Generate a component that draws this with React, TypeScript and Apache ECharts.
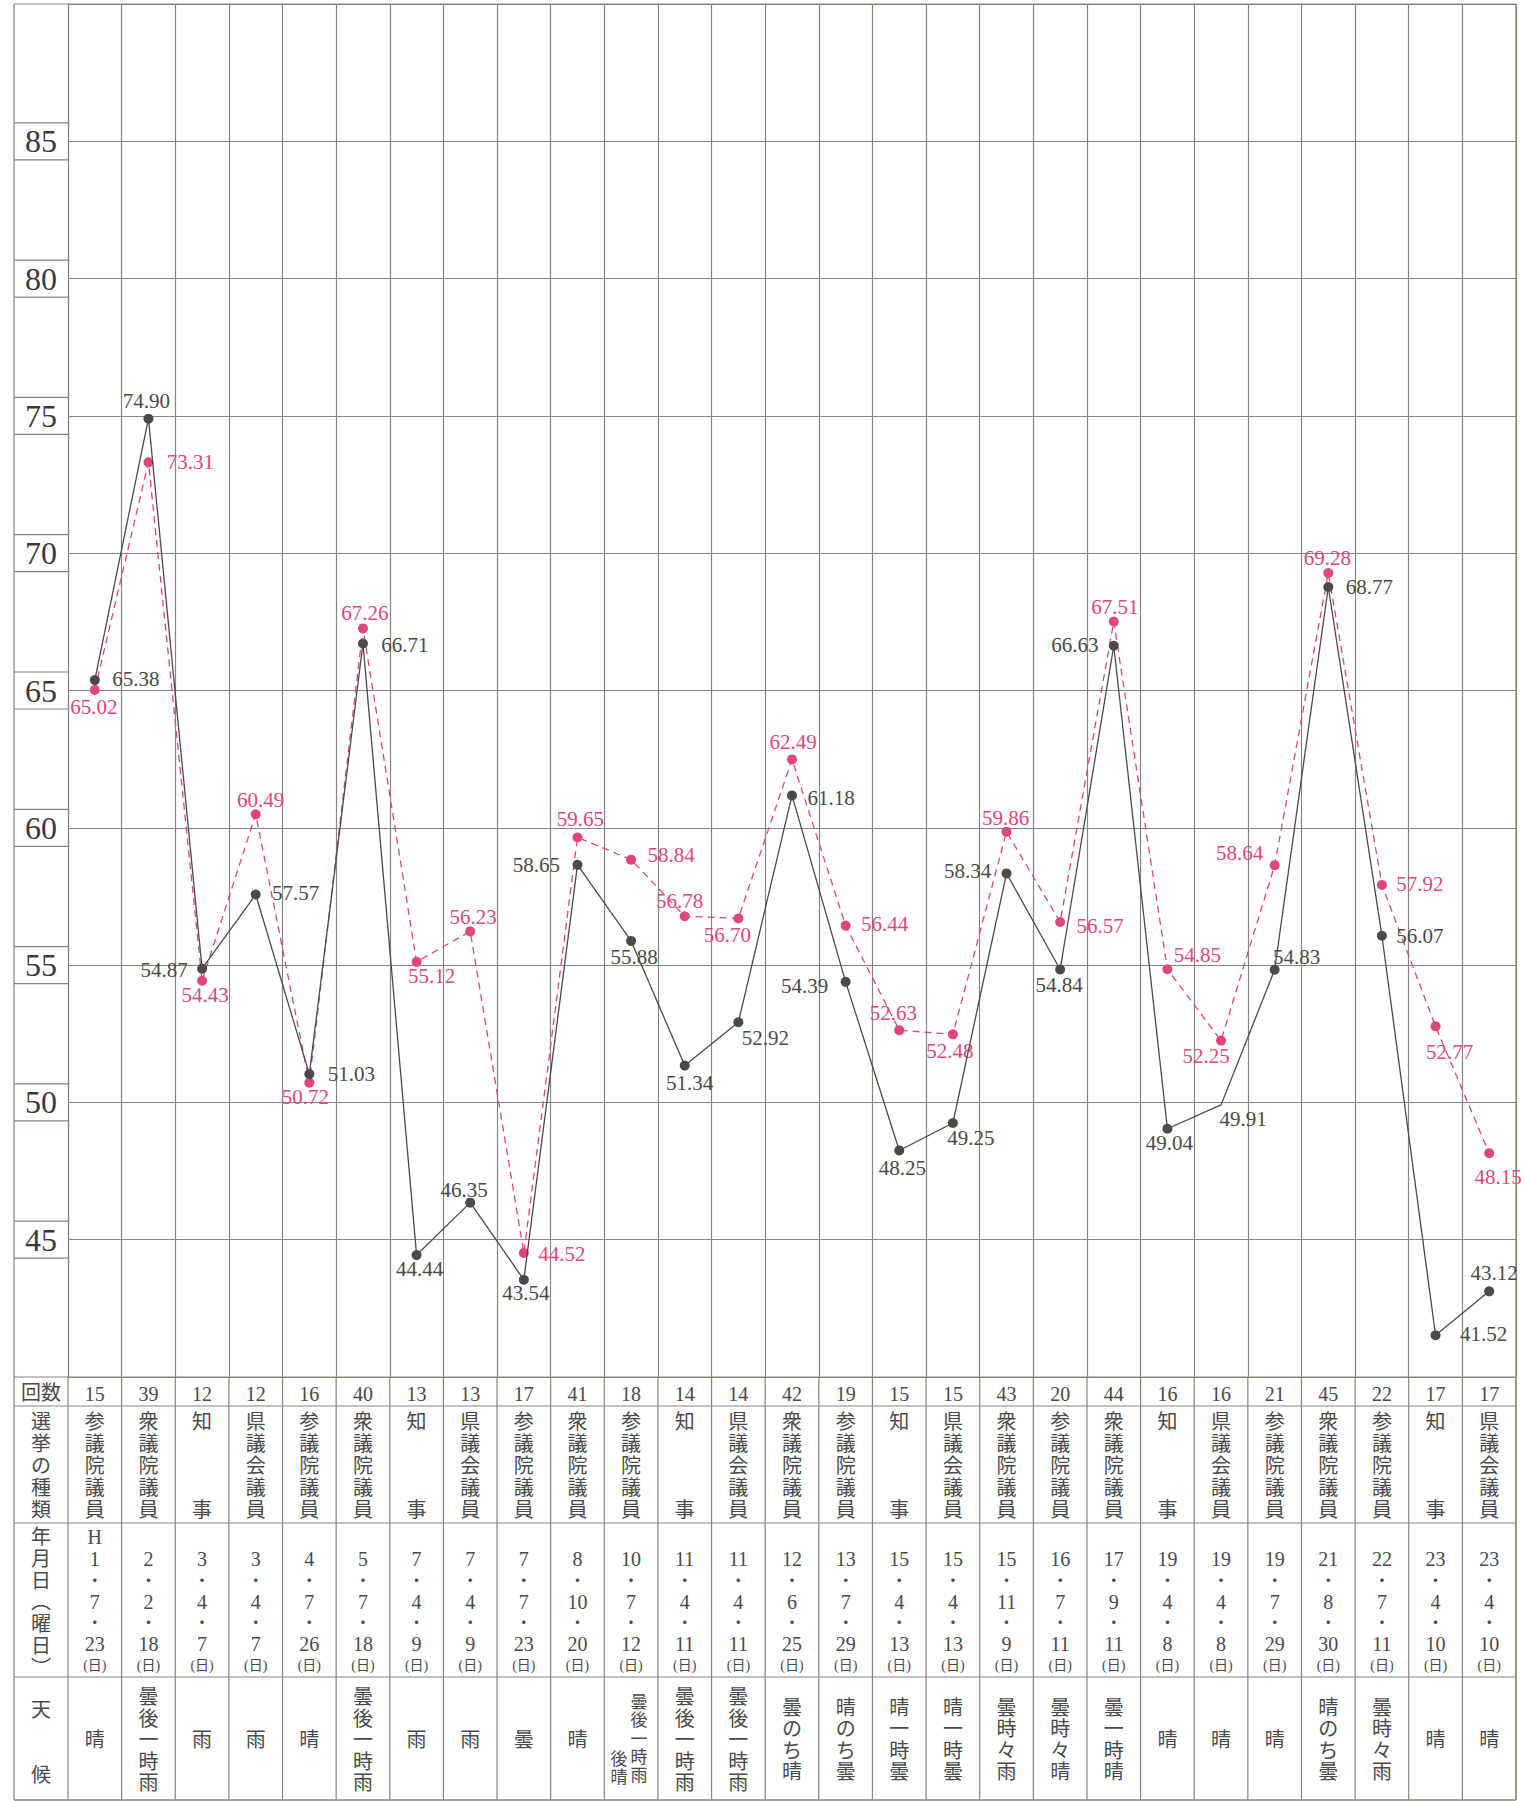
import React, { useEffect, useRef } from "react";
import * as echarts from "echarts";

// ---- data ----
const counts = ["15", "39", "12", "12", "16", "40", "13", "13", "17", "41", "18", "14", "14", "42", "19", "15", "15", "43", "20", "44", "16", "16", "21", "45", "22", "17", "17"];
const electionTypes = ["参議院議員", "衆議院議員", "知事", "県議会議員", "参議院議員", "衆議院議員", "知事", "県議会議員", "参議院議員", "衆議院議員", "参議院議員", "知事", "県議会議員", "衆議院議員", "参議院議員", "知事", "県議会議員", "衆議院議員", "参議院議員", "衆議院議員", "知事", "県議会議員", "参議院議員", "衆議院議員", "参議院議員", "知事", "県議会議員"];
const dateYears = ["1", "2", "3", "3", "4", "5", "7", "7", "7", "8", "10", "11", "11", "12", "13", "15", "15", "15", "16", "17", "19", "19", "19", "21", "22", "23", "23"];
const dateMonths = ["7", "2", "4", "4", "7", "7", "4", "4", "7", "10", "7", "4", "4", "6", "7", "4", "4", "11", "7", "9", "4", "4", "7", "8", "7", "4", "4"];
const dateDays = ["23", "18", "7", "7", "26", "18", "9", "9", "23", "20", "12", "11", "11", "25", "29", "13", "13", "9", "11", "11", "8", "8", "29", "30", "11", "10", "10"];
const weekdays = ["(日)", "(日)", "(日)", "(日)", "(日)", "(日)", "(日)", "(日)", "(日)", "(日)", "(日)", "(日)", "(日)", "(日)", "(日)", "(日)", "(日)", "(日)", "(日)", "(日)", "(日)", "(日)", "(日)", "(日)", "(日)", "(日)", "(日)"];
const weather = ["晴", "曇後一時雨", "雨", "雨", "晴", "曇後一時雨", "雨", "雨", "曇", "晴", "曇後一時雨後晴", "曇後一時雨", "曇後一時雨", "曇のち晴", "晴のち曇", "晴一時曇", "晴一時曇", "曇時々雨", "曇時々晴", "曇一時晴", "晴", "晴", "晴", "晴のち曇", "曇時々雨", "晴", "晴"];

const blackValues = [65.38, 74.90, 54.87, 57.57, 51.03, 66.71, 44.44, 46.35, 43.54, 58.65, 55.88, 51.34, 52.92, 61.18, 54.39, 48.25, 49.25, 58.34, 54.84, 66.63, 49.04, 49.91, 54.83, 68.77, 56.07, 41.52, 43.12];
const pinkValues = [65.02, 73.31, 54.43, 60.49, 50.72, 67.26, 55.12, 56.23, 44.52, 59.65, 58.84, 56.78, 56.70, 62.49, 56.44, 52.63, 52.48, 59.86, 56.57, 67.51, 54.85, 52.25, 58.64, 69.28, 57.92, 52.77, 48.15];

const yTicks = [45, 50, 55, 60, 65, 70, 75, 80, 85];

// ---- label placement (layout, separate from data) ----
const blackLabelOffsets: [number, number][] = [
  [41, -1], [-2, -18], [-38, 1], [40, -2], [42, 0], [42, 1], [3, 14], [-6, -13], [2, 13], [-41, 0],
  [3, 16], [5, 17], [27, 16], [39, 3], [-41, 4], [3, 18], [18, 15], [-39, -2], [-1, 16], [-39, -1],
  [2, 14], [22, 14], [22, -13], [41, 0], [38, 0], [48, -1], [5, -18],
];
const pinkLabelOffsets: [number, number][] = [
  [-1, 17], [42, 0], [3, 14], [5, -14], [-4, 14], [2, -15], [15, 14], [3, -14], [38, 1], [3, -18],
  [40, -5], [-5, -15], [-11, 17], [1, -17], [39, -2], [-6, -17], [-3, 17], [-1, -14], [40, 4], [1, -15],
  [30, -14], [-15, 15], [-35, -12], [-1, -15], [38, -1], [14, 26], [9, 24],
];
const blackHiddenMarkers = [21];

const GRID = "#86867a";
const BLACK = "#4a4a46";
const PINK = "#e0467c";
const TEXT = "#4a4a4a";
const SERIF = "'Liberation Serif', 'Noto Sans CJK JP', serif";
const CJK = "'Liberation Serif', 'Noto Sans CJK JP', sans-serif";

export default function App() {
  const ref = useRef<HTMLDivElement>(null);

  useEffect(() => {
    document.body.style.margin = "0";
    const chart = echarts.init(ref.current!, null, { renderer: "svg" });

    const labelBase = {
      show: true,
      position: "inside",
      fontSize: 21,
      fontFamily: SERIF,
      formatter: (p: any) => Number(p.value).toFixed(2),
    };

    const option: any = {
      animation: false,
      backgroundColor: "#ffffff",
      grid: { left: 68, right: 10, top: 4, bottom: 424, containLabel: false },
      xAxis: {
        type: "category",
        data: counts,
        boundaryGap: true,
        axisLine: { show: false },
        axisTick: { show: false },
        axisLabel: { show: false },
        splitLine: { show: true, interval: 0, lineStyle: { color: GRID, width: 1.2 } },
      },
      yAxis: {
        type: "value",
        min: 40,
        max: 90,
        interval: 5,
        axisLine: { show: true, lineStyle: { color: GRID, width: 1.2 } },
        axisTick: { show: false },
        axisLabel: {
          show: true,
          formatter: (v: number) => (yTicks.includes(v) ? String(v) : ""),
          fontSize: 32,
          fontFamily: SERIF,
          color: "#3a3a3a",
          align: "center",
          margin: 27,
        },
        splitLine: { show: true, lineStyle: { color: GRID, width: 1.2 } },
      },
      series: [
        {
          type: "line",
          name: "pink",
          z: 2,
          data: pinkValues.map((v, i) => ({ value: v, label: { offset: pinkLabelOffsets[i] } })),
          symbol: "circle",
          symbolSize: 10,
          itemStyle: { color: PINK },
          lineStyle: { color: PINK, width: 1.3, type: [7, 5] },
          label: { ...labelBase, color: PINK },
        },
        {
          type: "line",
          name: "black",
          z: 3,
          data: blackValues.map((v, i) => ({
            value: v,
            label: { offset: blackLabelOffsets[i] },
            ...(blackHiddenMarkers.includes(i) ? { symbolSize: 0 } : {}),
          })),
          symbol: "circle",
          symbolSize: 10,
          itemStyle: { color: BLACK },
          lineStyle: { color: BLACK, width: 1.3 },
          label: { ...labelBase, color: BLACK },
        },
      ],
    };
    chart.setOption(option);

    const xC = (i: number) => chart.convertToPixel({ xAxisIndex: 0 }, i) as number;
    const yP = (v: number) => chart.convertToPixel({ yAxisIndex: 0 }, v) as number;

    const n = counts.length;
    const band = xC(1) - xC(0);
    const gLeft = xC(0) - band / 2;
    const gRight = xC(n - 1) + band / 2;
    const frameLeft = 14;
    const T = yP(40);
    const top = yP(90);
    const rowBounds = [T, T + 29, T + 146, T + 300, T + 423];
    const bottom = rowBounds[4];

    const els: any[] = [];
    const line = (x1: number, y1: number, x2: number, y2: number) =>
      els.push({ type: "line", silent: true, z: 1, shape: { x1, y1, x2, y2 }, style: { stroke: GRID, lineWidth: 1.2 } });
    const text = (t: string, x: number, y: number, size: number, color = TEXT, family = CJK) =>
      els.push({
        type: "text",
        silent: true,
        z: 5,
        x,
        y,
        style: {
          text: t,
          fill: color,
          font: `${size}px ${family}`,
          align: "center",
          verticalAlign: "middle",
          textAlign: "center",
          textVerticalAlign: "middle",
        },
      });

    // frame
    line(frameLeft, top, gRight, top);
    line(frameLeft, top, frameLeft, bottom);
    line(frameLeft, bottom, gRight, bottom);
    line(gRight, top, gRight, bottom);
    // y label boxes
    yTicks.forEach((v) => {
      const y = yP(v);
      line(frameLeft, y - 18.5, gLeft, y - 18.5);
      line(frameLeft, y + 18.5, gLeft, y + 18.5);
    });
    // table rows
    rowBounds.forEach((y) => line(frameLeft, y, gRight, y));
    // table columns
    for (let k = 0; k <= n; k++) {
      const x = gLeft + k * band;
      line(x, T, x, bottom);
    }

    const hx = (frameLeft + gLeft) / 2;
    // header column
    text("回数", hx, T + 16, 20);
    "選挙の種類".split("").forEach((c, k) => text(c, hx, T + 45 + k * 22, 20));
    "年月日︵曜日︶".split("").forEach((c, k) => text(c, hx, T + 160 + k * 21.8, 20));
    text("天", hx, T + 333, 20);
    text("候", hx, T + 398, 20);

    for (let i = 0; i < n; i++) {
      const x = xC(i);
      text(counts[i], x, T + 17, 20, TEXT, SERIF);
      const chars = electionTypes[i].split("");
      if (chars.length === 2) {
        text(chars[0], x, T + 45, 20);
        text(chars[1], x, T + 45 + 4 * 22, 20);
      } else {
        chars.forEach((c, k) => text(c, x, T + 45 + k * 22, 20));
      }
      if (i === 0) text("H", x, T + 160, 20, TEXT, SERIF);
      [dateYears[i], "・", dateMonths[i], "・", dateDays[i]].forEach((c, k) =>
        text(c, x, T + 182 + k * 21.3, c === "・" ? 16 : 20, TEXT, SERIF)
      );
      text(weekdays[i], x, T + 288, 14, TEXT, CJK);

      const w = weather[i].split("");
      if (w.length > 5) {
        const main = w.slice(0, 5);
        const sub = w.slice(5);
        main.forEach((c, k) => text(c, x + 8, T + 362 + (k - 2) * 18.2, 17));
        sub.forEach((c, k) => text(c, x - 12, T + 362 + (k + 3 - 2) * 18.2 + 2, 17));
      } else {
        w.forEach((c, k) => text(c, x, T + 363 + (k - (w.length - 1) / 2) * 21.5, 20));
      }
    }

    chart.setOption({ graphic: { elements: els } });
    return () => chart.dispose();
  }, []);

  return <div ref={ref} style={{ width: 1526, height: 1801 }} />;
}
